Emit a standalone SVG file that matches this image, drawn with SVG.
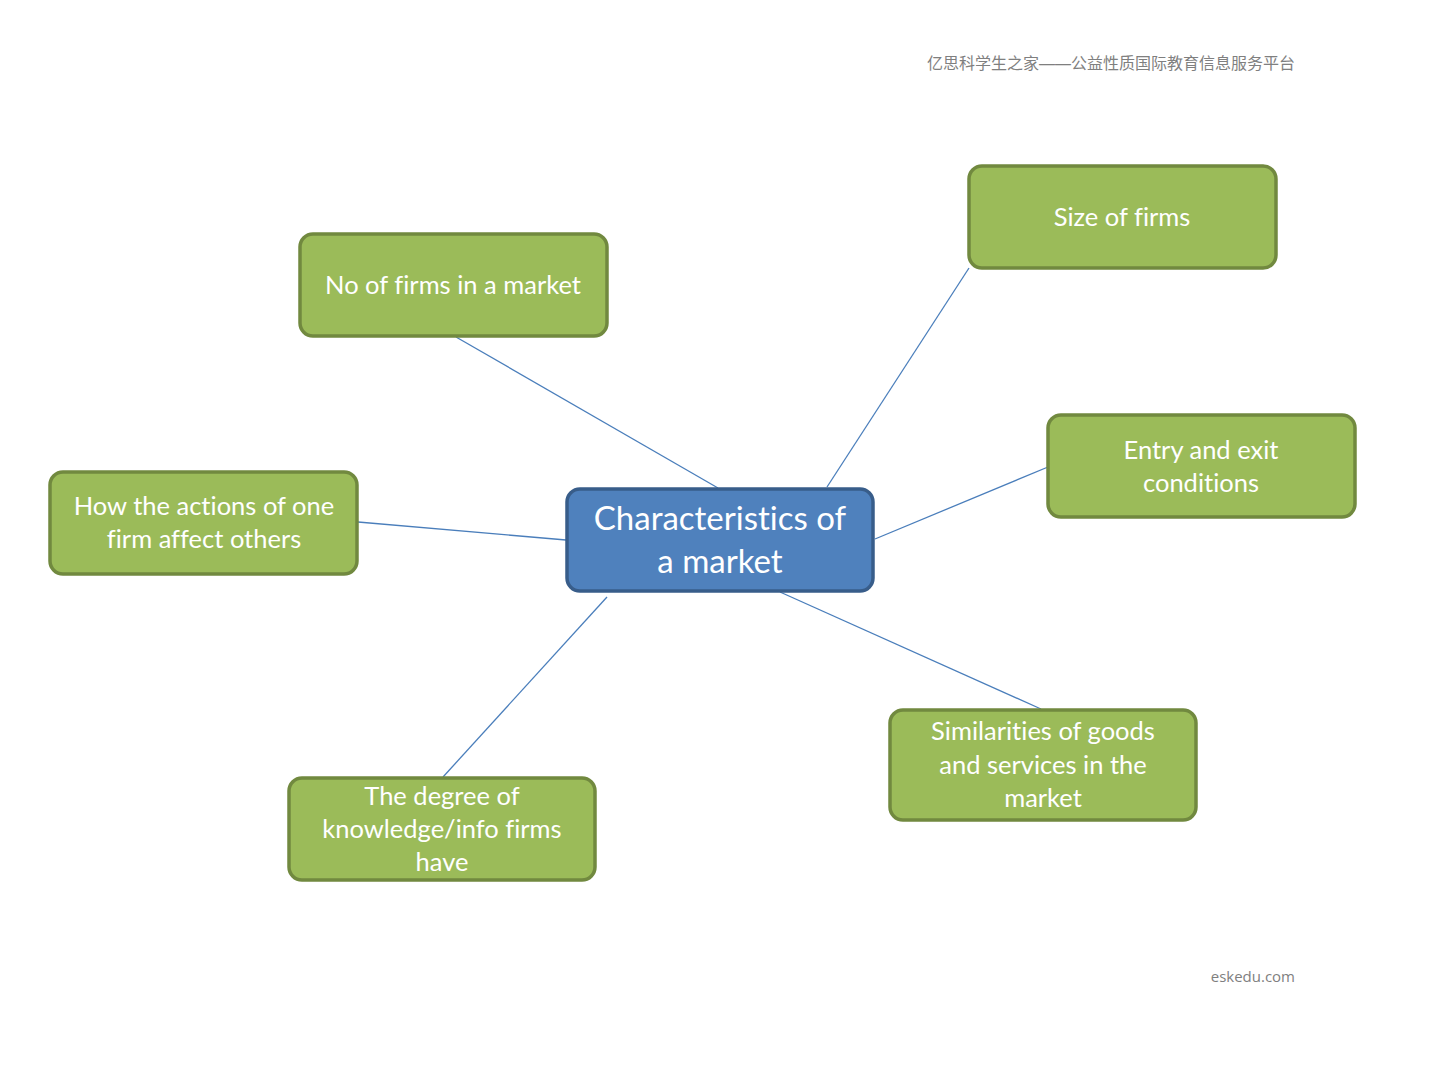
<svg xmlns="http://www.w3.org/2000/svg" width="1440" height="1080" viewBox="0 0 1440 1080">
<style>
.g rect{fill:#9BBB59;stroke:#71893F;stroke-width:3.5}
.c rect{fill:#4F81BD;stroke:#385D8A;stroke-width:3.5}
text{font-family:Lato,"Open Sans",sans-serif;fill:#fff;text-anchor:middle;font-variant-ligatures:none}
.t{font-size:25.5px}
.ct{font-size:33px}
.conn line{stroke:#4A7EBB;stroke-width:1.3}
.hd{font-family:"Liberation Sans","Noto Sans CJK SC",sans-serif;fill:#7F7F7F;font-size:16px;text-anchor:end}
</style>
<rect width="1440" height="1080" fill="#fff"/>
<text class="hd" x="1295" y="69">亿思科学生之家——公益性质国际教育信息服务平台</text>
<text class="hd" x="1295" y="982" style="font-family:'Open Sans',sans-serif;font-size:15px">eskedu.com</text>
<g class="conn">
<line x1="456" y1="337" x2="718" y2="488"/>
<line x1="827" y1="487" x2="969" y2="268"/>
<line x1="875" y1="539" x2="1048" y2="467"/>
<line x1="358" y1="522" x2="566" y2="540"/>
<line x1="607" y1="597" x2="443" y2="777"/>
<line x1="780" y1="592" x2="1041" y2="709"/>
</g>
<g id="n1" class="g"><rect x="300" y="234" width="307" height="102" rx="13"/><text class="t" x="453" y="294">No of firms in a market</text></g>
<g id="n2" class="g"><rect x="969" y="166" width="307" height="102" rx="13"/><text class="t" x="1122" y="226">Size of firms</text></g>
<g id="n3" class="g"><rect x="1048" y="415" width="307" height="102" rx="13"/><text class="t" x="1201" y="459">Entry and exit</text><text class="t" x="1201" y="492">conditions</text></g>
<g id="n4" class="g"><rect x="50" y="472" width="307" height="102" rx="13"/><text class="t" x="204" y="515">How the actions of one</text><text class="t" x="204" y="548">firm affect others</text></g>
<g id="center" class="c"><rect x="567" y="489" width="306" height="102" rx="13"/><text class="ct" x="720" y="530">Characteristics of</text><text class="ct" x="720" y="573">a market</text></g>
<g id="n5" class="g"><rect x="890" y="710" width="306" height="110" rx="13"/><text class="t" x="1043" y="740">Similarities of goods</text><text class="t" x="1043" y="774">and services in the</text><text class="t" x="1043" y="807">market</text></g>
<g id="n6" class="g"><rect x="289" y="778" width="306" height="102" rx="13"/><text class="t" x="442" y="805">The degree of</text><text class="t" x="442" y="838">knowledge/info firms</text><text class="t" x="442" y="871">have</text></g>
</svg>
